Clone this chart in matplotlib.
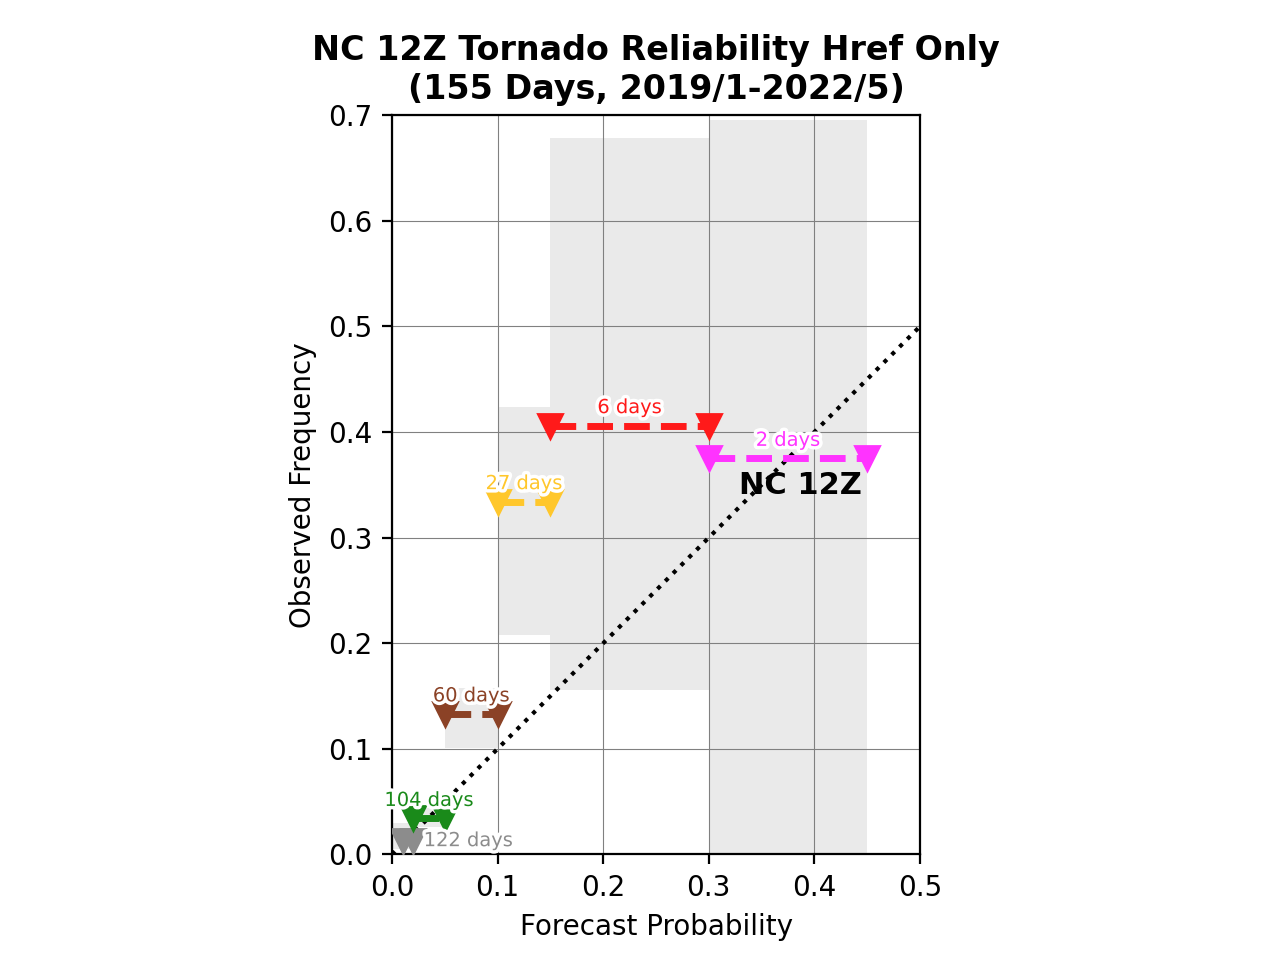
import matplotlib.pyplot as plt
import matplotlib.patheffects as pe

# bins (forecast probability edges), observed freq, CI, day counts
bin_lo = [0.01, 0.02, 0.05, 0.10, 0.15, 0.30]
bin_hi = [0.02, 0.05, 0.10, 0.15, 0.30, 0.45]
obs_freq = [0.013, 0.034, 0.133, 0.334, 0.406, 0.375]
ci_lo = [0.005, 0.026, 0.101, 0.208, 0.156, 0.0]
ci_hi = [0.030, 0.044, 0.158, 0.424, 0.678, 0.695]
ci_x0 = [0.0, 0.02, 0.05, 0.10, 0.15, 0.30]
n_days = [122, 104, 60, 27, 6, 2]
colors = ['#8c8c8c', '#1a8a1a', '#8b4226', '#ffc72c', '#ff1a1a', '#ff33ff']

fig, ax = plt.subplots(figsize=(6.4, 4.8), dpi=200)

outline = [pe.withStroke(linewidth=2.5, foreground='white')]
for i in range(len(bin_lo)):
    ax.fill_between([ci_x0[i], bin_hi[i]], ci_lo[i], ci_hi[i],
                    color='#eaeaea', linewidth=0, zorder=1)
for i in range(len(bin_lo)):
    ax.plot([bin_lo[i], bin_hi[i]], [obs_freq[i], obs_freq[i]], '--v',
            color=colors[i], lw=2.5, ms=8.5, zorder=3)
    if i == 0:
        ax.text(0.03, obs_freq[i], '%d days' % n_days[i], color=colors[i],
                fontsize=7, ha='left', va='center',
                path_effects=outline, zorder=4)
    else:
        ax.annotate('%d days' % n_days[i],
                    ((bin_lo[i] + bin_hi[i]) / 2, obs_freq[i]),
                    xytext=(0, 6.5), textcoords='offset points',
                    color=colors[i], fontsize=7,
                    ha='center', va='center', path_effects=outline, zorder=4)

ax.plot([0, 0.5], [0, 0.5], ':', color='black', lw=1.5, zorder=2)
ax.text(0.387, 0.349, 'NC 12Z', fontsize=11, fontweight='bold',
        ha='center', va='center', zorder=5)

ax.grid(True, color='gray', lw=0.4)
ax.set_xlim(0, 0.5)
ax.set_ylim(0, 0.7)
ax.set_aspect('equal')
ax.set_xlabel('Forecast Probability')
ax.set_ylabel('Observed Frequency')
ax.set_title('NC 12Z Tornado Reliability Href Only\n(155 Days, 2019/1-2022/5)',
             fontweight='bold', fontsize=12)

plt.savefig('out.png')
